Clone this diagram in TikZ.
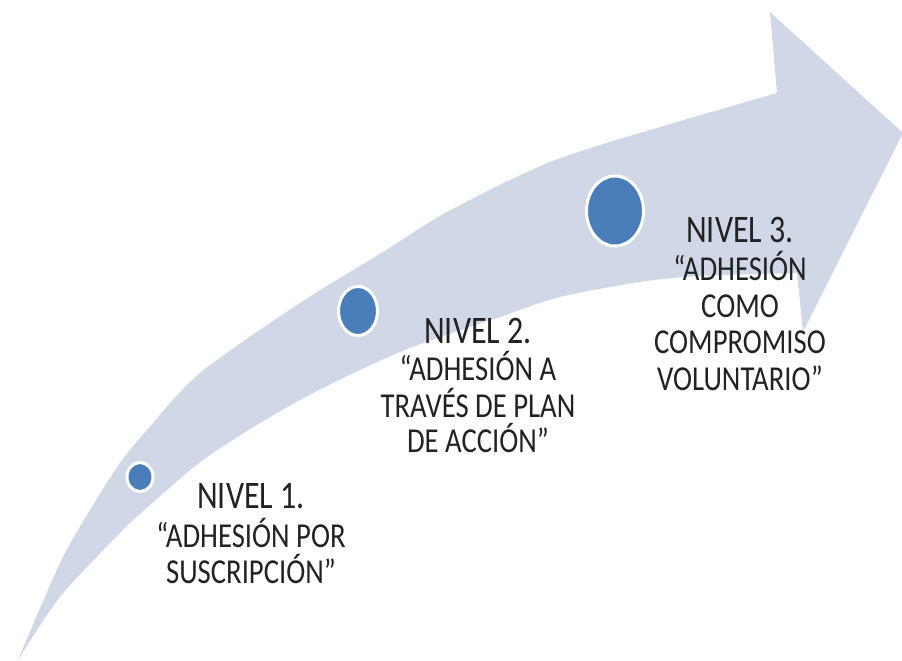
\documentclass[tikz,border=0pt]{standalone}
\usepackage{fontspec}
\newfontfamily\lblfont[FakeStretch=0.82]{Carlito}
\usetikzlibrary{shapes.geometric}
\definecolor{band}{HTML}{D0D8E8}
\definecolor{dot}{HTML}{4A7EBB}
\definecolor{txt}{HTML}{222222}
\begin{document}
\begin{tikzpicture}[x=1pt,y=-1pt,
  dotnode/.style={ellipse, fill=dot, draw=white, line width=3pt, inner sep=0pt},
  headline/.style={font=\lblfont\fontsize{39}{39}\selectfont, text=txt, anchor=base, inner sep=0pt},
  bodyline/.style={font=\lblfont\fontsize{35}{35}\selectfont, text=txt, anchor=base, inner sep=0pt}]
\useasboundingbox (0,0) rectangle (902,661);
% curved arrow band
\fill[band] (18,660)
  -- plot[smooth, tension=0.5] coordinates {(18,660) (60,563) (90,510) (120,463) (147,430) (200,373) (300,303) (383,252) (447,212) (550,162) (660,127) (777,93)}
  -- (770,12) -- (903,133) -- (803,332) -- (797,273)
  -- plot[smooth, tension=0.5] coordinates {(797,273) (700,276) (640,282) (560,297) (500,317) (400,352) (300,400) (210,455) (150,505) (120,533) (60,597) (18,660)}
  -- cycle;
% dots
\node[dotnode, minimum width=26pt, minimum height=29pt] (c1) at (140,477) {};
\node[dotnode, minimum width=39pt, minimum height=49pt] (c2) at (358,311) {};
\node[dotnode, minimum width=57pt, minimum height=70pt] (c3) at (615,211) {};
% level 1
\node[headline] (n1a) at (251,508) {NIVEL 1.};
\node[bodyline] (n1b) at (251,547) {“ADHESIÓN POR};
\node[bodyline] (n1c) at (251,583) {SUSCRIPCIÓN”};
% level 2
\node[headline] (n2a) at (478,343) {NIVEL 2.};
\node[bodyline] (n2b) at (478,380) {“ADHESIÓN A};
\node[bodyline] (n2c) at (478,417) {TRAVÉS DE PLAN};
\node[bodyline] (n2d) at (478,452) {DE ACCIÓN”};
% level 3
\node[headline] (n3a) at (740,242) {NIVEL 3.};
\node[bodyline] (n3b) at (740,280) {“ADHESIÓN};
\node[bodyline] (n3c) at (740,317) {COMO};
\node[bodyline] (n3d) at (740,353) {COMPROMISO};
\node[bodyline] (n3e) at (740,390) {VOLUNTARIO”};
\end{tikzpicture}
\end{document}
